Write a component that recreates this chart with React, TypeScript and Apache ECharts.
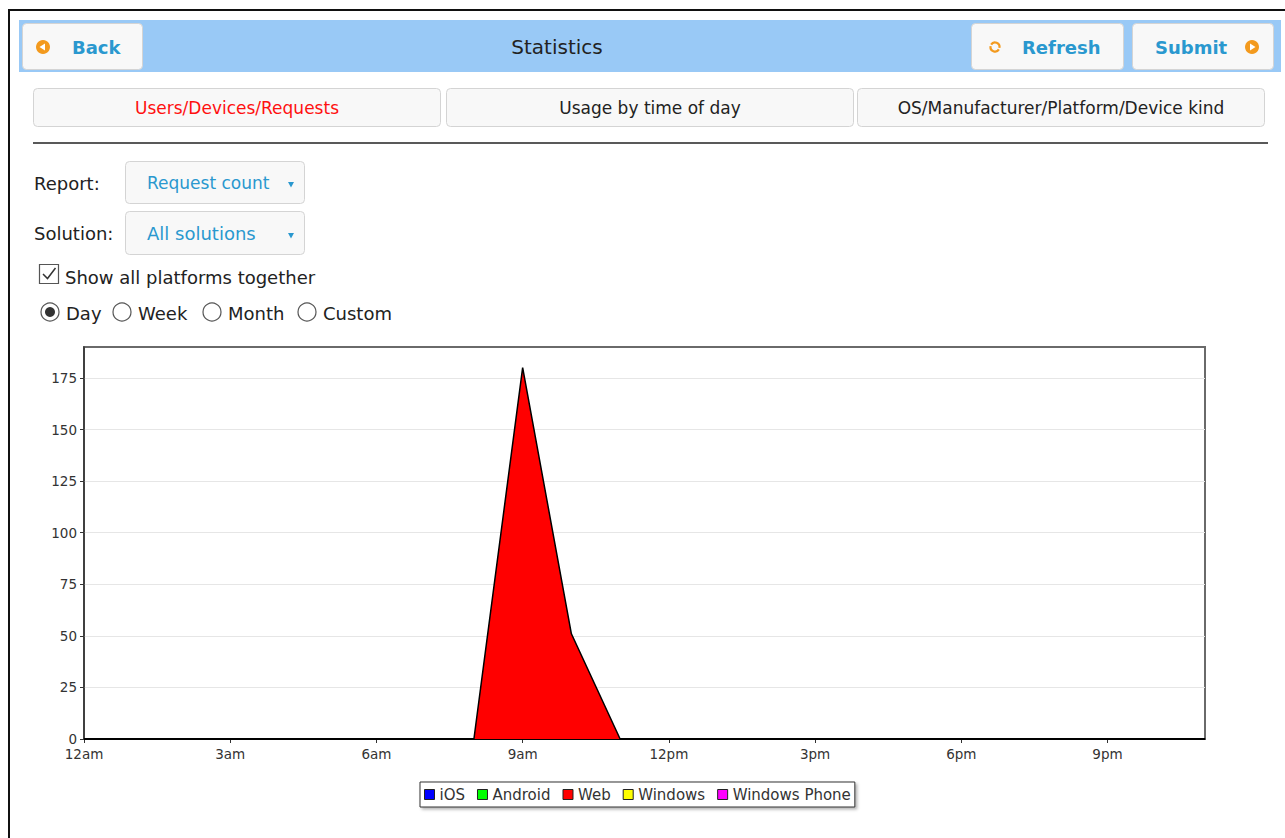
import { useEffect, useRef } from "react";
import * as echarts from "echarts";

// ---- data ----
const hourLabels = [
  "12am", "1am", "2am", "3am", "4am", "5am", "6am", "7am", "8am", "9am", "10am", "11am",
  "12pm", "1pm", "2pm", "3pm", "4pm", "5pm", "6pm", "7pm", "8pm", "9pm", "10pm", "11pm",
];
const platforms = ["iOS", "Android", "Web", "Windows", "Windows Phone"];
const platformColors = ["#0000ff", "#00ff00", "#ff0000", "#ffff00", "#ff00ff"];
const iosValues = [0, 0, 0, 0, 0, 0, 0, 0, 0, 0, 0, 0, 0, 0, 0, 0, 0, 0, 0, 0, 0, 0, 0, 0];
const androidValues = [0, 0, 0, 0, 0, 0, 0, 0, 0, 0, 0, 0, 0, 0, 0, 0, 0, 0, 0, 0, 0, 0, 0, 0];
const webValues = [0, 0, 0, 0, 0, 0, 0, 0, 0, 180, 51, 0, 0, 0, 0, 0, 0, 0, 0, 0, 0, 0, 0, 0];
const windowsValues = [0, 0, 0, 0, 0, 0, 0, 0, 0, 0, 0, 0, 0, 0, 0, 0, 0, 0, 0, 0, 0, 0, 0, 0];
const windowsPhoneValues = [0, 0, 0, 0, 0, 0, 0, 0, 0, 0, 0, 0, 0, 0, 0, 0, 0, 0, 0, 0, 0, 0, 0, 0];
const seriesValues = [iosValues, androidValues, webValues, windowsValues, windowsPhoneValues];
const yTicks = [0, 25, 50, 75, 100, 125, 150, 175];
const yMax = 190;

const tabLabels = ["Users/Devices/Requests", "Usage by time of day", "OS/Manufacturer/Platform/Device kind"];
const periodLabels = ["Day", "Week", "Month", "Custom"];

const FONT = '"DejaVu Sans", Verdana, sans-serif';
const BLUE_TEXT = "#2a98cf";
const ORANGE = "#f39a1e";

function txt(x: number, y: number, text: string, size: number, color: string, align = "left", weight = "normal") {
  return {
    type: "text",
    x,
    y,
    silent: true,
    style: {
      text,
      fontSize: size,
      fontFamily: FONT,
      fontWeight: weight,
      fill: color,
      align,
      verticalAlign: "middle",
      textAlign: align,
      textVerticalAlign: "middle",
    },
  };
}

function box(x: number, y: number, w: number, h: number) {
  return {
    type: "rect",
    silent: true,
    shape: { x: x + 0.5, y: y + 0.5, width: w, height: h, r: 4 },
    style: { fill: "#f8f8f8", stroke: "#d4d4d4", lineWidth: 1 },
  };
}

function buildGraphics() {
  const g: any[] = [];
  // outer frame
  g.push({ type: "line", silent: true, shape: { x1: 8, y1: 10, x2: 1285, y2: 10 }, style: { stroke: "#111", lineWidth: 2 } });
  g.push({ type: "line", silent: true, shape: { x1: 9, y1: 10, x2: 9, y2: 838 }, style: { stroke: "#111", lineWidth: 2 } });
  // header bar
  g.push({ type: "rect", silent: true, shape: { x: 19, y: 20, width: 1262, height: 52 }, style: { fill: "#99c9f6" } });
  // Back
  g.push(box(22, 23, 120, 46));
  g.push({ type: "circle", silent: true, shape: { cx: 43, cy: 47, r: 7 }, style: { fill: ORANGE } });
  g.push({ type: "polygon", silent: true, shape: { points: [[39.5, 47], [45, 43.5], [45, 50.5]] }, style: { fill: "#fff" } });
  g.push(txt(72, 47, "Back", 18, BLUE_TEXT, "left", "bold"));
  // title
  g.push(txt(557, 47, "Statistics", 20, "#222", "center"));
  // Refresh
  g.push(box(971, 23, 152, 46));
  g.push({ type: "arc", silent: true, shape: { cx: 995, cy: 47, r: 4.5, startAngle: -2.6, endAngle: 0.2 }, style: { stroke: ORANGE, lineWidth: 2.2, fill: "none" } });
  g.push({ type: "arc", silent: true, shape: { cx: 995, cy: 47, r: 4.5, startAngle: 0.54, endAngle: 3.34 }, style: { stroke: ORANGE, lineWidth: 2.2, fill: "none" } });
  g.push(txt(1022, 47, "Refresh", 18, BLUE_TEXT, "left", "bold"));
  // Submit
  g.push(box(1132, 23, 141, 46));
  g.push(txt(1155, 47, "Submit", 18, BLUE_TEXT, "left", "bold"));
  g.push({ type: "circle", silent: true, shape: { cx: 1252, cy: 47, r: 7 }, style: { fill: ORANGE } });
  g.push({ type: "polygon", silent: true, shape: { points: [[1250, 43.5], [1250, 50.5], [1255.5, 47]] }, style: { fill: "#fff" } });
  // tabs
  const tabX = [33, 446, 857];
  tabLabels.forEach((label, i) => {
    g.push(box(tabX[i], 88, 407, 38));
    g.push(txt(tabX[i] + 204, 108, label, 17, i === 0 ? "#ff1010" : "#222", "center"));
  });
  // rule
  g.push({ type: "line", silent: true, shape: { x1: 33, y1: 143, x2: 1268, y2: 143 }, style: { stroke: "#222", lineWidth: 1.5 } });
  // Report / Solution
  g.push(txt(34, 183, "Report:", 18, "#222"));
  g.push(box(125, 161, 179, 42));
  g.push(txt(147, 183, "Request count", 17, BLUE_TEXT));
  g.push({ type: "polygon", silent: true, shape: { points: [[288, 182], [294, 182], [291, 187.5]] }, style: { fill: BLUE_TEXT } });
  g.push(txt(34, 233, "Solution:", 18, "#222"));
  g.push(box(125, 211, 179, 43));
  g.push(txt(147, 233, "All solutions", 18, BLUE_TEXT));
  g.push({ type: "polygon", silent: true, shape: { points: [[288, 233], [294, 233], [291, 238.5]] }, style: { fill: BLUE_TEXT } });
  // checkbox
  g.push({ type: "rect", silent: true, shape: { x: 39.5, y: 264.5, width: 19, height: 19 }, style: { fill: "#fff", stroke: "#555", lineWidth: 1.2 } });
  g.push({ type: "polyline", silent: true, shape: { points: [[43, 274], [47.5, 278.5], [55.5, 268]] }, style: { stroke: "#333", lineWidth: 1.5, fill: "none" } });
  g.push(txt(65, 277, "Show all platforms together", 18, "#222"));
  // radios
  const radioX = [50, 122, 212, 307];
  periodLabels.forEach((label, i) => {
    g.push({ type: "circle", silent: true, shape: { cx: radioX[i], cy: 312, r: 9 }, style: { fill: "#fff", stroke: "#555", lineWidth: 1.2 } });
    if (i === 0) g.push({ type: "circle", silent: true, shape: { cx: radioX[i], cy: 312, r: 5 }, style: { fill: "#333" } });
    g.push(txt(radioX[i] + 16, 313, label, 18, "#222"));
  });
  return g;
}

export default function App() {
  const ref = useRef<HTMLDivElement>(null);
  useEffect(() => {
    const chart = echarts.init(ref.current!, null, { renderer: "svg" });
    const option: any = {
      animation: false,
      backgroundColor: "#ffffff",
      graphic: buildGraphics(),
      grid: {
        left: 84,
        top: 347,
        width: 1121,
        height: 392,
        show: true,
        borderColor: "#6a6a6a",
        borderWidth: 2,
        backgroundColor: "#fff",
        containLabel: false,
        outerBoundsMode: "none",
      },
      xAxis: {
        type: "category",
        data: hourLabels,
        boundaryGap: false,
        axisLine: { show: true, lineStyle: { color: "#333", width: 1.5 } },
        axisTick: { show: true, interval: 2, length: 4, lineStyle: { color: "#333" } },
        axisLabel: { interval: 2, fontSize: 13.5, fontFamily: FONT, color: "#333", margin: 8 },
        splitLine: { show: false },
      },
      yAxis: {
        type: "value",
        min: 0,
        max: yMax,
        interval: 25,
        axisLine: { show: true, lineStyle: { color: "#333", width: 1.5 } },
        axisTick: { show: true, length: 4, lineStyle: { color: "#333" }, customValues: yTicks },
        axisLabel: { fontSize: 13.5, fontFamily: FONT, color: "#333", margin: 7, customValues: yTicks },
        splitLine: { show: true, lineStyle: { color: "#e6e6e6", width: 1 } },
      },
      legend: {
        left: 420,
        top: 782,
        orient: "horizontal",
        icon: "rect",
        itemWidth: 10,
        itemHeight: 10,
        itemGap: 12,
        padding: [5, 4],
        borderColor: "#333",
        borderWidth: 1,
        backgroundColor: "#fff",
        shadowColor: "rgba(0,0,0,0.3)",
        shadowBlur: 3,
        shadowOffsetX: 2,
        shadowOffsetY: 2,
        selectedMode: false,
        itemStyle: { borderColor: "#222", borderWidth: 1 },
        textStyle: { fontSize: 15, fontFamily: FONT, color: "#333" },
        data: platforms.map((name, i) => ({
          name,
          icon: "rect",
          itemStyle: { color: platformColors[i], borderColor: "#222", borderWidth: 1 },
        })),
      },
      series: platforms.map((name, i) => ({
        name,
        type: "line",
        data: seriesValues[i],
        symbol: "none",
        showSymbol: false,
        lineStyle: { color: "#000", width: 1.5 },
        itemStyle: { color: platformColors[i] },
        areaStyle: { color: platformColors[i], opacity: 1 },
        emphasis: { disabled: true },
        z: name === "Web" ? 3 : 2,
      })),
    };
    chart.setOption(option);
    return () => chart.dispose();
  }, []);
  return (
    <div
      ref={ref}
      style={{ position: "absolute", left: 0, top: 0, width: 1285, height: 838, background: "#fff" }}
    />
  );
}
